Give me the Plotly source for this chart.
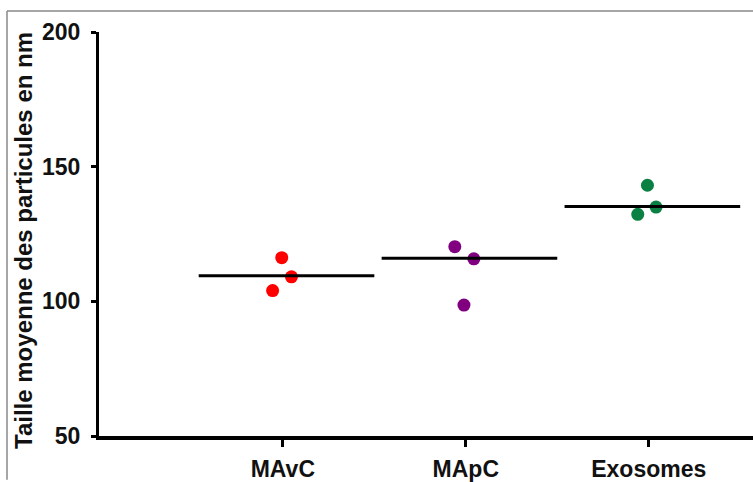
import plotly.graph_objects as go

categories = ["MAvC", "MApC", "Exosomes"]
colors = ["#FF0000", "#800080", "#0B8043"]
values = [
    [116.2, 109.1, 104.0],
    [120.3, 115.8, 98.6],
    [143.1, 135.0, 132.3],
]
jitter = [
    [-0.006, 0.047, -0.056],
    [-0.060, 0.044, -0.010],
    [-0.007, 0.040, -0.060],
]
means = [109.5, 116.0, 135.2]
ytick_vals = [50, 100, 150, 200]

W, H = 753, 482
L, R, T, B = 99, 0, 32, 44

fig = go.Figure()
for i, cat in enumerate(categories):
    fig.add_trace(go.Scatter(
        x=[i + j for j in jitter[i]], y=values[i], mode="markers",
        marker=dict(color=colors[i], size=13, line=dict(width=0)),
        showlegend=False, name=cat))
    fig.add_trace(go.Scatter(
        x=[i - 0.46, i + 0.5], y=[means[i], means[i]], mode="lines",
        line=dict(color="black", width=3), showlegend=False))

font = dict(family="Liberation Sans, Arial, sans-serif", size=23, color="#111")
title_font = dict(family="Liberation Sans, Arial, sans-serif", size=24, color="#111")

fig.update_layout(
    width=W, height=H,
    margin=dict(l=L, r=R, t=T, b=B),
    paper_bgcolor="white", plot_bgcolor="white",
    xaxis=dict(range=[-1.005, 2.57], tickvals=[0, 1, 2], ticktext=["<b>%s</b>" % c for c in categories],
               showline=True, linecolor="black", linewidth=4, ticks="outside",
               ticklen=7, tickwidth=3, tickcolor="black", showgrid=False, zeroline=False,
               tickfont=font, ticklabelstandoff=2),
    yaxis=dict(range=[50, 200], tickvals=ytick_vals, ticktext=["<b>%d</b>" % v for v in ytick_vals],
               showline=True, linecolor="black", linewidth=3, ticks="outside",
               ticklen=5, tickwidth=3, tickcolor="black", showgrid=False, zeroline=False,
               tickfont=font, ticklabelstandoff=6),
    annotations=[dict(text="<b>Taille moyenne des particules en nm</b>", textangle=-90,
                      xref="paper", yref="paper", x=(24 - L) / (W - L - R), y=1 - (242 - T) / (H - T - B),
                      xanchor="center", yanchor="middle", showarrow=False, font=title_font)],
)

pw = W - L - R
ph = H - T - B
def px(x):
    return (x - L) / pw
def py(y):
    return 1 - (y - T) / ph

fig.add_shape(type="line", xref="paper", yref="paper", x0=px(7), x1=px(7), y0=py(11), y1=py(482),
              line=dict(color="#888", width=1.5))
fig.add_shape(type="line", xref="paper", yref="paper", x0=px(7), x1=px(753), y0=py(11), y1=py(11),
              line=dict(color="#888", width=1.5))

fig.write_html("out.html", config={"displayModeBar": False},
               post_script="document.body.style.margin='0';document.body.style.overflow='hidden';")
